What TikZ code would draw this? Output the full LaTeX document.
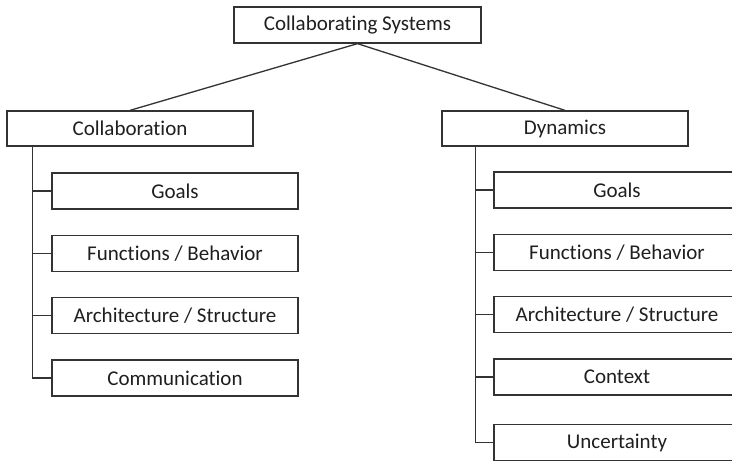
\documentclass[tikz,border=0pt]{standalone}
\usepackage{fontspec}
\setmainfont{Carlito}[Ligatures={NoCommon}]
\begin{document}
\begin{tikzpicture}[x=1pt,y=-1pt,
  box/.style={draw=black!80,line width=1.3pt,fill=white,minimum width=246pt,minimum height=36pt,inner sep=0pt,text=black!88,font=\fontsize{21}{23}\selectfont},
  link/.style={draw=black!80,line width=1.3pt}]
\clip (0,0) rectangle (732,461);
\fill[white] (0,0) rectangle (732,461);
\node[box,minimum width=247pt] (top) at (357.5,25) {Collaborating Systems};
\node[box,minimum height=35pt] (col) at (130,128.5) {Collaboration};
\node[box,minimum height=35pt] (dyn) at (565,128.5) {Dynamics};
\node[box] (lg) at (175,191) {Goals};
\node[box] (lf) at (175,253.5) {Functions / Behavior};
\node[box] (la) at (175,315.5) {Architecture / Structure};
\node[box] (lc) at (175,378) {Communication};
\node[box] (rg) at (617,190) {Goals};
\node[box] (rf) at (617,252.5) {Functions / Behavior};
\node[box] (ra) at (617,314.5) {Architecture / Structure};
\node[box] (rc) at (617,377) {Context};
\node[box] (ru) at (617,442.5) {Uncertainty};
\draw[link] (top.south) -- (col.north);
\draw[link] (top.south) -- (dyn.north);
\foreach \c in {lg,lf,la,lc}{\draw[link] ([xshift=26pt]col.south west) |- (\c.west);}
\foreach \c in {rg,rf,ra,rc,ru}{\draw[link] ([xshift=34pt]dyn.south west) |- (\c.west);}
\end{tikzpicture}
\end{document}
